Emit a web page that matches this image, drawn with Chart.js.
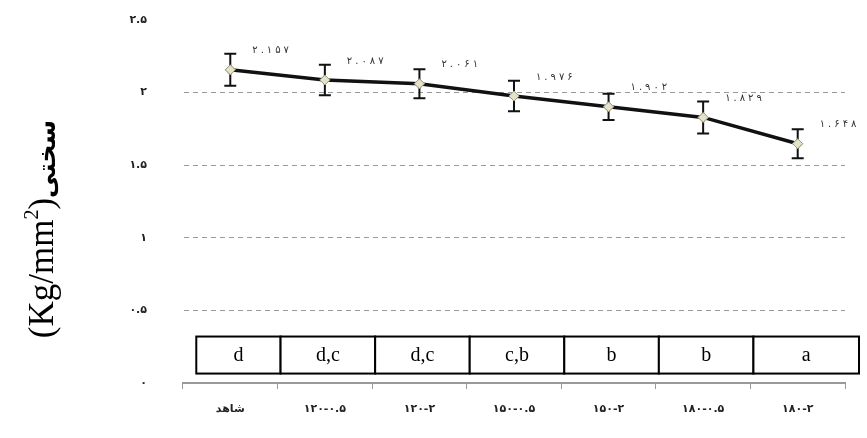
<!DOCTYPE html>
<html>
<head>
<meta charset="utf-8">
<script src="https://cdn.jsdelivr.net/npm/chart.js@4.4.0/dist/chart.umd.min.js"></script>
<style>
  html, body { margin: 0; padding: 0; background: #fff; }
  #wrap { width: 867px; height: 438px; }
</style>
</head>
<body>
<div id="wrap"><canvas id="hardnessChart"></canvas></div>
<script>
// Data
const categories = ['شاهد', '۱۲۰-۰.۵', '۱۲۰-۲', '۱۵۰-۰.۵', '۱۵۰-۲', '۱۸۰-۰.۵', '۱۸۰-۲'];
const hardness = [2.157, 2.087, 2.061, 1.976, 1.902, 1.829, 1.648];
const errors = [0.11, 0.105, 0.1, 0.105, 0.09, 0.11, 0.1];
const groups = ['d', 'd,c', 'd,c', 'c,b', 'b', 'b', 'a'];
const yTicks = [0, 0.5, 1, 1.5, 2, 2.5];

const faDigits = '۰۱۲۳۴۵۶۷۸۹';
function toFa(str) {
    return '\u200E' + String(str).replace(/[0-9]/g, d => faDigits[d]);
}

// Error bars, points on top, value labels
const errorBars = {
    id: 'errorBars',
    afterDatasetsDraw(chart) {
        const ctx = chart.ctx;
        const meta = chart.getDatasetMeta(0);
        const y = chart.scales.y;
        ctx.save();
        ctx.strokeStyle = '#111';
        ctx.lineWidth = 2;
        meta.data.forEach((pt, i) => {
            const top = y.getPixelForValue(hardness[i] + errors[i]);
            const bot = y.getPixelForValue(hardness[i] - errors[i]);
            ctx.beginPath();
            ctx.moveTo(pt.x, top); ctx.lineTo(pt.x, bot);
            ctx.moveTo(pt.x - 6, top); ctx.lineTo(pt.x + 6, top);
            ctx.moveTo(pt.x - 6, bot); ctx.lineTo(pt.x + 6, bot);
            ctx.stroke();
        });
        meta.data.forEach(pt => pt.draw(ctx, chart.chartArea));
        // spaced-out value labels, one glyph at a time
        ctx.fillStyle = '#333';
        ctx.font = '10px "DejaVu Sans"';
        ctx.textAlign = 'left';
        ctx.textBaseline = 'middle';
        meta.data.forEach((pt, i) => {
            const txt = hardness[i].toFixed(3).replace(/[0-9]/g, d => faDigits[d]);
            let cx = pt.x + 22;
            for (const ch of txt) {
                ctx.fillText(ch, cx, pt.y - 19);
                cx += ctx.measureText(ch).width + 3;
            }
        });
        ctx.restore();
    }
};

// Letter table above the x axis, plus the y title
const groupTable = {
    id: 'groupTable',
    afterDraw(chart) {
        const ctx = chart.ctx;
        const x = chart.scales.x;
        const y = chart.scales.y;
        const top = y.getPixelForValue(0.32);
        const bot = y.getPixelForValue(0.065);
        const xs = groups.map((g, i) => x.getPixelForValue(i));
        ctx.save();
        ctx.strokeStyle = '#000';
        ctx.lineWidth = 2;
        ctx.font = '20px "Liberation Serif"';
        ctx.textAlign = 'center';
        ctx.textBaseline = 'middle';
        groups.forEach((g, i) => {
            const left = i === 0 ? xs[0] - 34 : (xs[i - 1] + xs[i]) / 2 + 3;
            const right = i === groups.length - 1 ? chart.chartArea.right + 14 : (xs[i] + xs[i + 1]) / 2 + 3;
            ctx.fillStyle = '#fff';
            ctx.fillRect(left, top, right - left, bot - top);
            ctx.strokeRect(left, top, right - left, bot - top);
            ctx.fillStyle = '#000';
            ctx.fillText(g, (left + right) / 2, (top + bot) / 2 + 1);
        });

        // rotated y title: (Kg/mm²) سختی
        ctx.translate(53, 229);
        ctx.rotate(-Math.PI / 2);
        ctx.textAlign = 'left';
        ctx.textBaseline = 'alphabetic';
        const serif = '35px "Liberation Serif"';
        const sup = '20px "Liberation Serif"';
        const ar = 'bold 25px "DejaVu Sans"';
        ctx.font = serif;
        const p1 = '(Kg/mm';
        const w1 = ctx.measureText(p1).width;
        const w3 = ctx.measureText(')').width;
        ctx.font = sup;
        const w2 = ctx.measureText('2').width;
        ctx.font = ar;
        const w4 = ctx.measureText('سختی').width;
        let cx = -(w1 + w2 + w3 + w4) / 2;
        ctx.font = serif;
        ctx.fillText(p1, cx, 0); cx += w1;
        ctx.font = sup;
        ctx.fillText('2', cx, -15); cx += w2;
        ctx.font = serif;
        ctx.fillText(')', cx, 0); cx += w3;
        ctx.font = ar;
        ctx.fillText('سختی', cx, 2);
        ctx.restore();
    }
};

new Chart(document.getElementById('hardnessChart').getContext('2d'), {
    type: 'line',
    data: {
        labels: categories,
        datasets: [{
            data: hardness,
            borderColor: '#111',
            borderWidth: 3.5,
            pointStyle: 'rectRot',
            pointRadius: 5,
            pointBackgroundColor: '#e6e2c6',
            pointBorderColor: '#9a9a8a',
            pointBorderWidth: 1,
            tension: 0
        }]
    },
    options: {
        responsive: true,
        maintainAspectRatio: false,
        animation: false,
        layout: { autoPadding: false, padding: { top: 20, right: 22, left: 0, bottom: 0 } },
        plugins: {
            legend: { display: false },
            tooltip: { enabled: false }
        },
        scales: {
            x: {
                offset: true,
                grid: { drawOnChartArea: false, drawTicks: true, tickLength: 6, color: '#999', offset: true },
                border: { display: true, color: '#999', width: 2 },
                ticks: {
                    padding: 14,
                    color: '#222',
                    font: { family: 'DejaVu Sans', size: 11, weight: 'bold' },
                    maxRotation: 0
                },
                afterFit(s) { s.height = 55; }
            },
            y: {
                min: 0,
                max: 2.5,
                afterBuildTicks(s) { s.ticks = yTicks.map(v => ({ value: v })); },
                grid: {
                    drawTicks: false,
                    color: c => c.tick && (c.tick.value === 0 || c.tick.value === 2.5) ? 'transparent' : '#999',
                    lineWidth: 1
                },
                border: { display: true, color: 'transparent', dash: [5, 4] },
                ticks: {
                    padding: 36,
                    color: '#222',
                    font: { family: 'DejaVu Sans', size: 11, weight: 'bold' },
                    callback: v => toFa(v)
                },
                // tick padding would otherwise be added to the top/bottom padding
                afterFit(s) { s.width = 183; s.paddingTop = 0; s.paddingBottom = 0; }
            }
        }
    },
    plugins: [errorBars, groupTable]
});
</script>
</body>
</html>
